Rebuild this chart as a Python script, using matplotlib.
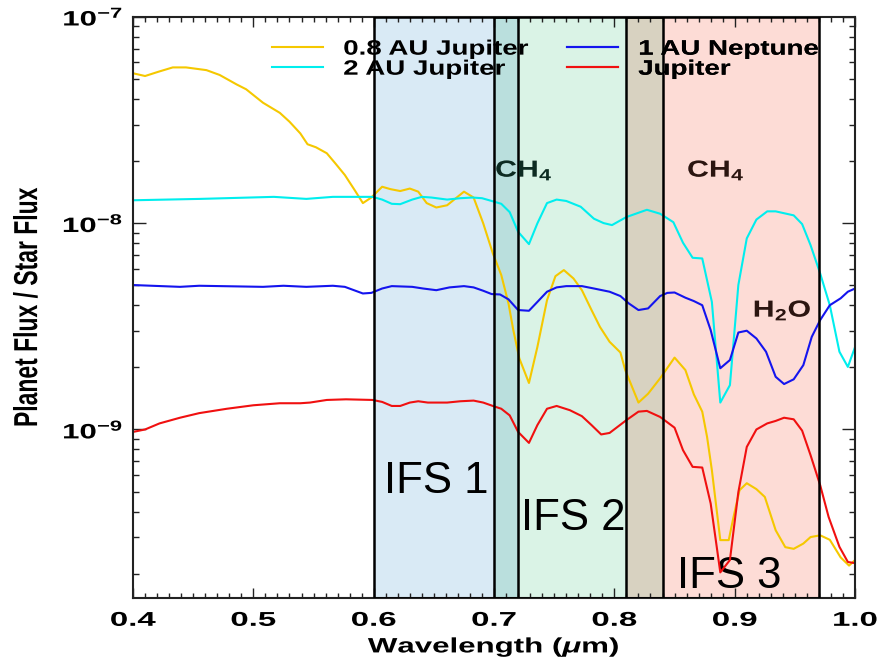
import numpy as np
import matplotlib
matplotlib.use('Agg')
import matplotlib.pyplot as plt
from matplotlib import ticker
from matplotlib.patheffects import AbstractPathEffect
from matplotlib.transforms import Affine2D
from matplotlib.path import Path
from matplotlib.colors import to_rgb

# Spectra: wavelength (micron) and planet/star flux ratio in units of 1e-9
wave_08jup = [0.400, 0.410, 0.421, 0.433, 0.444, 0.461, 0.472, 0.486, 0.494, 0.508,
              0.522, 0.530, 0.539, 0.545, 0.552, 0.561, 0.568, 0.576, 0.584, 0.591,
              0.598, 0.607, 0.614, 0.622, 0.630, 0.637, 0.644, 0.652, 0.661, 0.675,
              0.683, 0.691, 0.699, 0.706, 0.712, 0.716, 0.721, 0.729, 0.736, 0.744,
              0.751, 0.758, 0.766, 0.773, 0.781, 0.788, 0.796, 0.805, 0.809, 0.820,
              0.828, 0.838, 0.850, 0.859, 0.866, 0.873, 0.877, 0.881, 0.888, 0.895,
              0.899, 0.904, 0.910, 0.918, 0.925, 0.934, 0.942, 0.949, 0.957, 0.963,
              0.971, 0.979, 0.988, 0.995, 1.000]
flux_08jup = [53.2, 51.6, 54.1, 56.8, 56.8, 55.1, 52.2, 47.0, 44.5, 38.3,
              34.2, 31.0, 27.2, 24.1, 23.3, 21.8, 19.5, 17.1, 14.5, 12.5,
              13.3, 15.0, 14.6, 14.3, 14.7, 14.2, 12.5, 11.9, 12.2, 14.2,
              13.3, 9.97, 7.13, 5.60, 4.08, 3.03, 2.21, 1.68, 2.51, 4.23,
              5.53, 5.92, 5.39, 4.73, 3.79, 3.14, 2.66, 2.36, 1.94, 1.35,
              1.49, 1.77, 2.23, 1.94, 1.48, 1.22, 0.921, 0.635, 0.291, 0.291,
              0.377, 0.508, 0.549, 0.514, 0.471, 0.325, 0.269, 0.264, 0.280, 0.301,
              0.307, 0.292, 0.240, 0.219, 0.233]

wave_2jup = [0.400, 0.456, 0.517, 0.544, 0.566, 0.599, 0.607, 0.615, 0.622, 0.632,
             0.640, 0.648, 0.661, 0.672, 0.682, 0.690, 0.698, 0.706, 0.713, 0.720,
             0.729, 0.736, 0.744, 0.752, 0.760, 0.772, 0.783, 0.791, 0.798, 0.810,
             0.827, 0.838, 0.849, 0.857, 0.865, 0.873, 0.881, 0.888, 0.896, 0.903,
             0.910, 0.918, 0.927, 0.934, 0.949, 0.956, 0.963, 0.971, 0.979, 0.987,
             0.994, 1.000]
flux_2jup = [12.9, 13.1, 13.4, 13.1, 13.4, 13.4, 13.0, 12.4, 12.35, 13.0,
             13.4, 13.3, 13.0, 13.2, 13.3, 13.2, 12.8, 12.4, 11.3, 9.07,
             7.91, 9.97, 12.5, 13.0, 12.8, 12.0, 10.5, 10.0, 9.78, 10.7,
             11.6, 11.1, 10.1, 8.03, 6.79, 6.74, 4.15, 1.35, 1.64, 5.01,
             8.43, 10.4, 11.4, 11.4, 10.9, 9.89, 7.82, 5.70, 4.00, 2.38,
             2.01, 2.51]

wave_1nep = [0.400, 0.439, 0.455, 0.508, 0.525, 0.544, 0.566, 0.576, 0.591, 0.598,
             0.607, 0.615, 0.632, 0.641, 0.652, 0.663, 0.675, 0.683, 0.691, 0.698,
             0.705, 0.712, 0.720, 0.729, 0.736, 0.744, 0.752, 0.760, 0.773, 0.783,
             0.796, 0.805, 0.812, 0.820, 0.828, 0.838, 0.844, 0.850, 0.859, 0.866,
             0.873, 0.880, 0.888, 0.896, 0.903, 0.910, 0.918, 0.926, 0.934, 0.941,
             0.949, 0.957, 0.964, 0.971, 0.979, 0.988, 0.994, 1.000]
flux_1nep = [5.01, 4.91, 4.97, 4.91, 4.97, 4.91, 4.97, 4.91, 4.56, 4.59,
             4.82, 4.95, 4.91, 4.82, 4.73, 4.88, 4.95, 4.88, 4.70, 4.53,
             4.51, 4.27, 3.79, 3.76, 4.15, 4.65, 4.88, 4.95, 4.95, 4.82,
             4.65, 4.43, 4.08, 3.79, 3.86, 4.43, 4.59, 4.61, 4.35, 4.19,
             4.00, 3.03, 1.98, 2.17, 2.95, 3.01, 2.76, 2.38, 1.80, 1.66,
             1.75, 2.05, 2.81, 3.39, 4.00, 4.32, 4.65, 4.82]

wave_jup = [0.400, 0.410, 0.422, 0.439, 0.455, 0.478, 0.500, 0.522, 0.539, 0.547,
            0.561, 0.577, 0.599, 0.607, 0.615, 0.622, 0.630, 0.637, 0.645, 0.661,
            0.672, 0.683, 0.691, 0.699, 0.706, 0.713, 0.720, 0.729, 0.736, 0.744,
            0.752, 0.763, 0.773, 0.781, 0.789, 0.796, 0.810, 0.820, 0.827, 0.838,
            0.850, 0.857, 0.865, 0.873, 0.880, 0.888, 0.896, 0.903, 0.910, 0.918,
            0.927, 0.934, 0.941, 0.949, 0.956, 0.963, 0.971, 0.978, 0.987, 0.994,
            1.000]
flux_jup = [0.973, 1.00, 1.07, 1.14, 1.20, 1.26, 1.31, 1.34, 1.34, 1.35,
            1.39, 1.40, 1.39, 1.36, 1.30, 1.30, 1.35, 1.37, 1.35, 1.35,
            1.37, 1.38, 1.35, 1.30, 1.26, 1.17, 0.973, 0.861, 1.05, 1.26,
            1.30, 1.24, 1.16, 1.05, 0.946, 0.962, 1.11, 1.22, 1.23, 1.15,
            1.02, 0.794, 0.659, 0.654, 0.438, 0.203, 0.233, 0.497, 0.823, 1.00,
            1.07, 1.10, 1.14, 1.12, 0.987, 0.751, 0.537, 0.377, 0.270, 0.228,
            0.225]

series_labels = ['0.8 AU Jupiter', '2 AU Jupiter', '1 AU Neptune', 'Jupiter']
series_colors = ['#f5c800', '#00eeee', '#1414ee', '#f01010']

# IFS bandpasses (micron)
band_names = ['IFS 1', 'IFS 2', 'IFS 3']
band_lo = [0.60, 0.70, 0.81]
band_hi = [0.72, 0.84, 0.97]
band_colors = ['#d9eaf5', '#daf3e6', '#fddcd6']

ytick_values = [1e-9, 1e-8, 1e-7]


class Stretch(AbstractPathEffect):
    """Draw text paths scaled along / across the writing direction."""

    def __init__(self, sx=1.0, sy=1.0, anchor='center'):
        super().__init__()
        self.sx, self.sy, self.anchor = sx, sy, anchor

    def draw_path(self, renderer, gc, tpath, affine, rgbFace=None):
        verts = tpath.vertices
        if tpath.codes is not None:
            verts = verts[tpath.codes != Path.CLOSEPOLY]
        x0 = 0.0
        if len(verts):
            if self.anchor == 'center':
                x0 = 0.5 * (verts[:, 0].min() + verts[:, 0].max())
            elif self.anchor == 'right':
                x0 = verts[:, 0].max()
        shape = Affine2D().translate(-x0, 0).scale(self.sx, self.sy).translate(x0, 0)
        renderer.draw_path(gc, tpath, shape + affine, rgbFace)


plt.rcParams['font.family'] = 'Liberation Sans'
plt.rcParams['font.weight'] = 'bold'
plt.rcParams['axes.labelweight'] = 'bold'
plt.rcParams['mathtext.fontset'] = 'custom'
plt.rcParams['mathtext.rm'] = 'Liberation Sans:bold'
plt.rcParams['mathtext.bf'] = 'Liberation Sans:bold'
plt.rcParams['mathtext.it'] = 'Liberation Sans:bold:italic'

fig = plt.figure(figsize=(8.77, 6.58), dpi=100)
ax = fig.add_axes([0.1517, 0.0907, 0.8233, 0.8839])

# bandpass fills, darker where two bands overlap
for lo, hi, c in zip(band_lo, band_hi, band_colors):
    ax.axvspan(lo, hi, color=c, lw=0, zorder=0)
for i in range(len(band_lo)):
    for j in range(i + 1, len(band_lo)):
        lo, hi = max(band_lo[i], band_lo[j]), min(band_hi[i], band_hi[j])
        if lo < hi:
            mix = tuple(np.multiply(to_rgb(band_colors[i]), to_rgb(band_colors[j])))
            ax.axvspan(lo, hi, color=mix, lw=0, zorder=0.5)
for lo, hi in zip(band_lo, band_hi):
    ax.axvspan(lo, hi, fill=False, ec='black', lw=1.8, zorder=3)

waves = [wave_08jup, wave_2jup, wave_1nep, wave_jup]
fluxes = [flux_08jup, flux_2jup, flux_1nep, flux_jup]
lines = []
for w, f, c, lab in zip(waves, fluxes, series_colors, series_labels):
    ln, = ax.plot(w, np.array(f) * 1e-9, color=c, lw=1.5, label=lab, zorder=2)
    lines.append(ln)

ax.set_yscale('log')
ax.set_xlim(0.4, 1.0)
ax.set_ylim(1.52e-10, 1e-7)

ax.xaxis.set_major_locator(ticker.MultipleLocator(0.1))
ax.xaxis.set_minor_locator(ticker.MultipleLocator(0.01))
ax.xaxis.set_major_formatter(ticker.FormatStrFormatter('%.1f'))
ax.yaxis.set_major_locator(ticker.FixedLocator(ytick_values))
ax.yaxis.set_minor_locator(ticker.LogLocator(base=10, subs=np.arange(2, 10)))
ax.yaxis.set_minor_formatter(ticker.NullFormatter())
ax.yaxis.set_major_formatter(ticker.FuncFormatter(
    lambda v, pos: r'$\mathbf{10^{%d}}$' % round(np.log10(v))))

ax.tick_params(which='both', direction='in', top=True, right=True, width=1.0, color='#222222')
ax.tick_params(axis='x', which='major', length=7.2, labelsize=14.4, pad=9)
ax.tick_params(axis='x', which='minor', length=3.6)
ax.tick_params(axis='y', which='major', length=9.6, labelsize=15, pad=7)
ax.tick_params(axis='y', which='minor', length=4.6)
for sp in ax.spines.values():
    sp.set_linewidth(1.5)
    sp.set_color('#222222')

for t in ax.xaxis.get_major_ticks():
    t.label1.set_path_effects([Stretch(1.65, anchor='center')])
for t in ax.yaxis.get_major_ticks():
    t.label1.set_path_effects([Stretch(1.5, anchor='right')])

ax.set_xlabel(r'Wavelength ($\mu$m)', fontsize=15, fontweight='bold')
ax.xaxis.label.set_path_effects([Stretch(1.5, anchor='center')])
ax.xaxis.set_label_coords(0.5, -0.064)
ax.set_ylabel('Planet Flux / Star Flux', fontsize=16.5, fontweight='bold')
ax.yaxis.label.set_path_effects([Stretch(1.0, 1.45)])
ax.yaxis.set_label_coords(-0.126, 0.5)

# legend in two columns
leg_x = [0.1921, 0.6007]
for k in range(2):
    leg = ax.legend(lines[2 * k:2 * k + 2], series_labels[2 * k:2 * k + 2],
                    loc='center left', bbox_to_anchor=(leg_x[k], 0.927),
                    frameon=False, fontsize=15, handlelength=2.48,
                    handletextpad=0.95, labelspacing=0.05, borderpad=0,
                    borderaxespad=0)
    for t in leg.get_texts():
        t.set_path_effects([Stretch(1.33, anchor='left')])
    ax.add_artist(leg)

# absorption features
feature_text = [r'$\mathbf{CH_4}$', r'$\mathbf{CH_4}$', r'$\mathbf{H_2O}$']
feature_pos = [(0.5416, 0.7249), (0.8075, 0.7249), (0.8996, 0.4842)]
feature_color = ['#0d2b22', '#2b1510', '#2b1510']
for s, (x, y), c in zip(feature_text, feature_pos, feature_color):
    ax.text(x, y, s, transform=ax.transAxes, ha='center', va='baseline',
            fontsize=16.8, color=c, zorder=4,
            path_effects=[Stretch(1.3, anchor='center')])

# band names
band_label_pos = [(0.4201, 0.1805), (0.6099, 0.1174), (0.8257, 0.0172)]
for name, (x, y) in zip(band_names, band_label_pos):
    ax.text(x, y, name, transform=ax.transAxes, ha='center', va='baseline',
            fontsize=31.5, fontweight='normal', color='black', zorder=1.5)

fig.savefig('out.png', dpi=100)
